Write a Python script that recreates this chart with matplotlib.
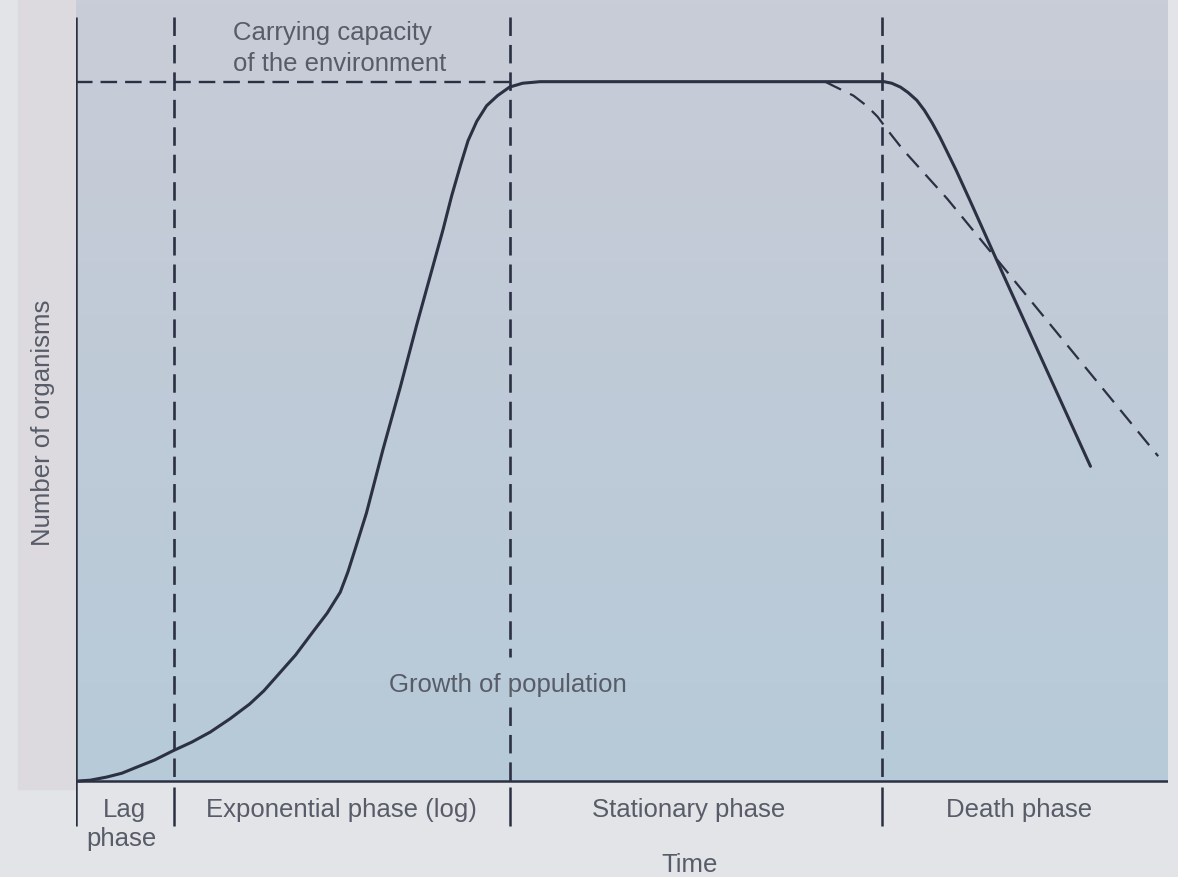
import matplotlib
matplotlib.use("Agg")
import matplotlib.pyplot as plt
import numpy as np
from matplotlib.colors import LinearSegmentedColormap

# ---------------- data ----------------
phase_labels = ["Lag", "Exponential phase (log)", "Stationary phase", "Death phase"]
phase_label_x = [0.44, 2.43, 5.61, 8.64]
phase_bounds = [0.90, 3.97, 7.38]          # vertical dashed phase separators (time)
carrying_capacity = 9.0                     # horizontal dashed line level
capacity_end = 4.0

growth_time = [0.02, 0.13, 0.28, 0.42, 0.56, 0.72, 0.89, 1.06, 1.23, 1.41, 1.59,
               1.72, 1.84, 2.01, 2.17, 2.30, 2.42, 2.49, 2.56, 2.66, 2.81, 2.97,
               3.12, 3.36, 3.44, 3.52, 3.59, 3.67, 3.76, 3.86, 3.97, 4.09, 4.25,
               7.40, 7.47, 7.55, 7.62, 7.70, 7.77, 7.84, 7.91, 7.98, 8.06, 8.19,
               8.49, 9.29]
growth_count = [0.00, 0.01, 0.05, 0.10, 0.18, 0.27, 0.39, 0.50, 0.63, 0.80, 0.99,
                1.16, 1.35, 1.62, 1.92, 2.16, 2.43, 2.69, 3.00, 3.45, 4.26, 5.07,
                5.87, 7.09, 7.53, 7.92, 8.24, 8.49, 8.69, 8.82, 8.93, 8.98, 9.00,
                9.00, 8.98, 8.93, 8.86, 8.76, 8.63, 8.47, 8.29, 8.09, 7.86, 7.46,
                6.52, 4.05]

decline_time = [6.86, 6.93, 7.12, 7.24, 7.34, 7.43, 7.57, 7.73, 7.98, 9.91]
decline_count = [9.00, 8.95, 8.82, 8.69, 8.55, 8.38, 8.13, 7.88, 7.49, 4.18]

# ---------------- style ----------------
ink = "#2b3042"
txt = "#575c68"
font = "Liberation Sans"
fs = 18.5

fig = plt.figure(figsize=(11.78, 8.78), dpi=100, facecolor="#e2e4e8")
ax = fig.add_axes([76 / 1178, 2 / 878, 1092 / 1178, 876 / 878])
ax.set_xlim(0, 10)
ax.set_ylim(-1.21, 10.064)
ax.axis("off")

# left margin tint
fig.patches.append(plt.Rectangle((0.015, 0.10), 76 / 1178 - 0.015, 0.9,
                                 transform=fig.transFigure, color="#dcdadf",
                                 zorder=-1))

# plot-area background gradient
cmap = LinearSegmentedColormap.from_list("bg", ["#b7cad9", "#bfcad7", "#c9cdd8"])
grad = np.linspace(0, 1, 256).reshape(-1, 1)
ax.imshow(grad, extent=[0, 10, 0, 10.064], origin="lower", cmap=cmap,
          aspect="auto", zorder=0, interpolation="bilinear")

# axes lines
ax.plot([0, 0], [-0.58, 9.83], color=ink, lw=1.8, solid_capstyle="butt", zorder=3)
ax.plot([0, 10], [0, 0], color=ink, lw=1.8, solid_capstyle="butt", zorder=3)

dash = (0, (7.0, 3.4))
gap_lo, gap_hi = 0.95, 1.60
for i, xb in enumerate(phase_bounds):
    if i == 1:
        ax.plot([xb, xb], [9.83, gap_hi], color=ink, lw=1.9, ls=dash, zorder=2)
        ax.plot([xb, xb], [gap_lo, 0], color=ink, lw=1.9, ls=dash, zorder=2)
    else:
        ax.plot([xb, xb], [9.83, 0], color=ink, lw=1.9, ls=dash, zorder=2)
    ax.plot([xb, xb], [-0.08, -0.58], color=ink, lw=1.8, solid_capstyle="butt",
            zorder=2)

# carrying capacity
ax.plot([0, capacity_end], [carrying_capacity, carrying_capacity], color=ink,
        lw=1.7, ls=dash, zorder=2)

# growth curve and alternative decline
ax.plot(growth_time, growth_count, color=ink, lw=2.2, zorder=4,
        solid_joinstyle="round", solid_capstyle="round")
ax.plot(decline_time, decline_count, color=ink, lw=1.6, ls=(0, (8.0, 4.5)),
        zorder=3)

# texts
ax.text(1.44, 9.55, "Carrying capacity", family=font, fontsize=fs, color=txt,
        ha="left", va="baseline")
ax.text(1.44, 9.15, "of the environment", family=font, fontsize=fs, color=txt,
        ha="left", va="baseline")
ax.text(3.956, 1.16, "Growth of population", family=font, fontsize=fs, color=txt,
        ha="center", va="baseline")

for lab, xl in zip(phase_labels, phase_label_x):
    ax.text(xl, -0.45, lab, family=font, fontsize=fs, color=txt, ha="center",
            va="baseline", clip_on=False)
ax.text(0.42, -0.82, "phase", family=font, fontsize=fs, color=txt, ha="center",
        va="baseline", clip_on=False)
ax.text(5.62, -1.16, "Time", family=font, fontsize=fs, color=txt, ha="center",
        va="baseline", clip_on=False)
ax.text(-0.30, 4.62, "Number of organisms", family=font, fontsize=fs, color=txt,
        ha="center", va="center", rotation=90, clip_on=False)

fig.savefig("out.png", dpi=100, facecolor=fig.get_facecolor())
